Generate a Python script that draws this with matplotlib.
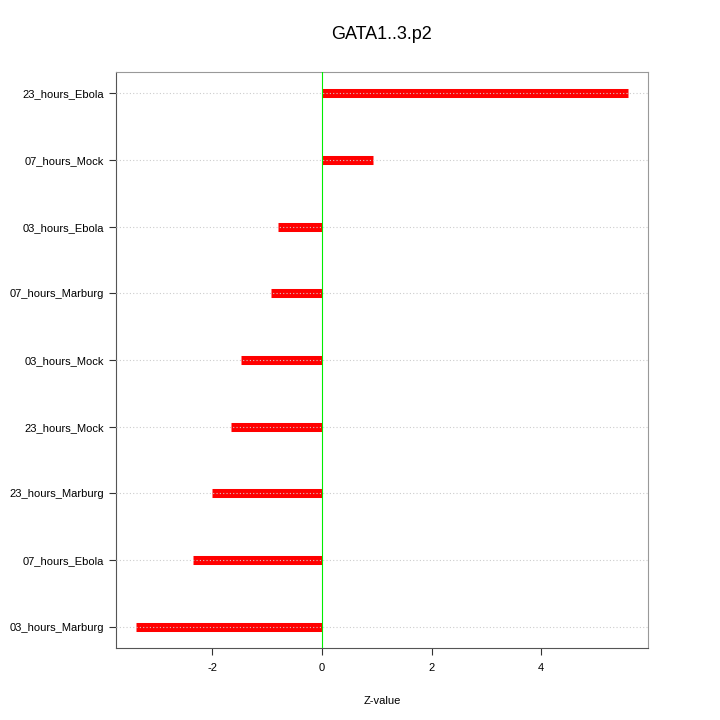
import numpy as np
import matplotlib.pyplot as plt

plt.rcParams['font.family'] = ['Liberation Sans', 'DejaVu Sans']

samples = ['23_hours_Ebola', '07_hours_Mock', '03_hours_Ebola', '07_hours_Marburg',
           '03_hours_Mock', '23_hours_Mock', '23_hours_Marburg', '07_hours_Ebola',
           '03_hours_Marburg']
zvals = [5.59, 0.93, -0.80, -0.93, -1.48, -1.66, -2.01, -2.36, -3.40]

fig = plt.figure(figsize=(7.2, 7.2), dpi=100)
ax = fig.add_axes([0.161, 0.1, 0.739, 0.8])

ypos = np.arange(len(samples), 0, -1)

# thick red segments from zero to the value
ax.hlines(ypos, 0, zvals, color='red', linewidth=6.5, zorder=2)
# dotted guide lines drawn on top
for y in ypos:
    ax.axhline(y, color='#cccccc', linestyle=(0, (1, 2)), linewidth=0.8, zorder=3)
ax.axvline(0, color='#00ee00', linewidth=0.8, zorder=4)

ax.set_xlim(-3.76, 5.95)
ax.set_ylim(0.68, 9.32)
ax.set_yticks(ypos)
ax.set_yticklabels(samples, fontsize=8)
ax.set_xticks([-2, 0, 2, 4])
ax.set_xticklabels(['-2', '0', '2', '4'], fontsize=8)
ax.tick_params(direction='out', length=5, color='#333333')
ax.tick_params(axis='x', pad=6)

for side in ['top', 'right']:
    ax.spines[side].set_color('#999999')
for side in ['left', 'bottom']:
    ax.spines[side].set_color('#555555')

ax.set_xlabel('Z-value', fontsize=8, labelpad=16)
ax.set_title('GATA1..3.p2', fontsize=13, pad=24)

fig.savefig('out.png', dpi=100)
